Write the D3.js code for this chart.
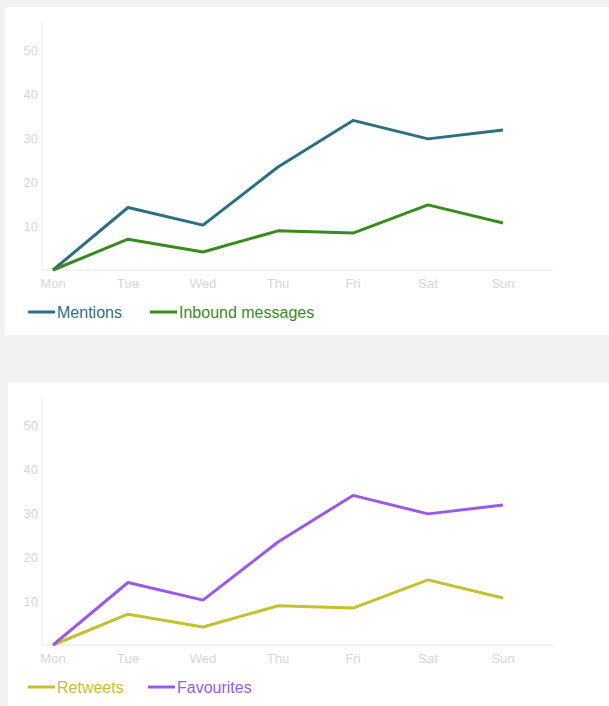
<!DOCTYPE html>
<html>
<head>
<meta charset="utf-8">
<script src="https://cdn.jsdelivr.net/npm/d3@7"></script>
<style>
  body { margin: 0; background: #f2f2f2; }
  svg { display: block; font-family: "Liberation Sans", "DejaVu Sans", sans-serif; }
</style>
</head>
<body>
<svg></svg>
<script>
const width = 609;
const height = 706;

const days = ["Mon", "Tue", "Wed", "Thu", "Fri", "Sat", "Sun"];
const yTicks = [10, 20, 30, 40, 50];

const mentions = [0, 14.2, 10.2, 23.4, 34, 29.8, 31.8];
const inbound = [0, 7, 4.1, 8.9, 8.4, 14.8, 10.7];
const retweets = [0, 7, 4.1, 8.9, 8.4, 14.8, 10.7];
const favourites = [0, 14.2, 10.2, 23.4, 34, 29.8, 31.8];

const svg = d3.select("svg").attr("width", width).attr("height", height);

// grey page with two white cards
svg.append("rect").attr("width", width).attr("height", height).attr("fill", "#f2f2f2");
svg.append("rect").attr("x", 5).attr("y", 7).attr("width", width - 5).attr("height", 328).attr("fill", "#fff");
svg.append("rect").attr("x", 8).attr("y", 382).attr("width", width - 8).attr("height", 324).attr("fill", "#fff");

function drawChart(top, series) {
    const g = svg.append("g").attr("transform", `translate(0,${top})`);
    const x = d3.scalePoint().domain(days).range([53, 503]);
    const y = d3.scaleLinear().domain([0, 55]).range([263, 21]);

    // axis lines
    g.append("line").attr("x1", 42).attr("x2", 42).attr("y1", 15).attr("y2", y(0))
        .attr("stroke", "#ececec");
    g.append("line").attr("x1", 42).attr("x2", 553).attr("y1", y(0)).attr("y2", y(0))
        .attr("stroke", "#e6e6e6");

    g.selectAll(".ytick")
        .data(yTicks)
        .enter()
        .append("text")
        .attr("x", 38)
        .attr("y", d => y(d))
        .attr("dy", "0.35em")
        .attr("text-anchor", "end")
        .attr("font-size", 13)
        .attr("fill", "#d6d6d6")
        .text(d => d);

    g.selectAll(".xtick")
        .data(days)
        .enter()
        .append("text")
        .attr("x", d => x(d))
        .attr("y", y(0) + 18)
        .attr("text-anchor", "middle")
        .attr("font-size", 13)
        .attr("fill", "#d6d6d6")
        .text(d => d);

    const line = d3.line().x((d, i) => x(days[i])).y(d => y(d));

    series.forEach(s => {
        g.append("path")
            .attr("d", line(s.values))
            .attr("fill", "none")
            .attr("stroke", s.color)
            .attr("stroke-width", 3)
            .attr("stroke-linejoin", "round");
    });

    // legend
    const leg = g.selectAll(".leg")
        .data(series)
        .enter()
        .append("g")
        .attr("transform", d => `translate(${d.lx},${y(0) + 42})`);
    leg.append("line").attr("x1", 0).attr("x2", 27)
        .attr("stroke", d => d.color).attr("stroke-width", 3);
    leg.append("text")
        .attr("x", 29)
        .attr("dy", "0.35em")
        .attr("font-size", 16)
        .attr("fill", d => d.color)
        .text(d => d.name);
}

drawChart(7, [
    { name: "Mentions", values: mentions, color: "#2b6f80", lx: 28 },
    { name: "Inbound messages", values: inbound, color: "#3a8a1f", lx: 150 }
]);

drawChart(382, [
    { name: "Retweets", values: retweets, color: "#c8bf2c", lx: 28 },
    { name: "Favourites", values: favourites, color: "#9a5ae6", lx: 148 }
]);
</script>
</body>
</html>
